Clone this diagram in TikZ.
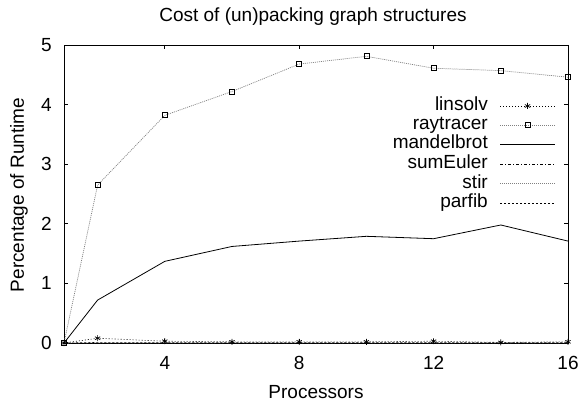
\documentclass[tikz,border=0pt]{standalone}
\usepackage{fontspec}
\setmainfont{Liberation Sans}
\usetikzlibrary{plotmarks}
\tikzset{
  axisline/.style={line width=0.8pt, black},
  ticklab/.style={font=\fontsize{19}{19}\selectfont, inner sep=0pt},
  legtext/.style={font=\fontsize{19}{19}\selectfont, anchor=east, inner sep=0pt, text height=12pt, text depth=3pt},
  linsolvstyle/.style={black, line width=0.6pt, dash pattern=on 1pt off 2pt},
  raystyle/.style={gray, line width=0.7pt, dash pattern=on 1pt off 1pt},
  mandelstyle/.style={black, line width=0.8pt},
  sumstyle/.style={black, line width=0.5pt, dash pattern=on 3pt off 2pt on 1pt off 2pt},
  stirstyle/.style={gray, line width=0.6pt, dash pattern=on 1pt off 1pt},
  parfibstyle/.style={black, line width=0.6pt, dash pattern=on 2pt off 2pt},
}
\begin{document}
\begin{tikzpicture}[x=1pt,y=-1pt]
\useasboundingbox (0,0) rectangle (580,406);
\fill[white] (0,0) rectangle (580,406);
% title and axis labels
\node[ticklab] (title) at (313,17) {Cost of (un)packing graph structures};
\node[ticklab] (xlab) at (316,392) {Processors};
\node[ticklab, rotate=90] (ylab) at (19,195) {Percentage of Runtime};
% frame
\draw[axisline] (64,45) rectangle (568,343);
% y ticks
\foreach \v in {0,...,5}{
  \pgfmathsetmacro{\yy}{343-59.6*\v}
  \draw[axisline] (64,\yy) -- (68,\yy);
  \draw[axisline] (568,\yy) -- (564,\yy);
  \node[ticklab, anchor=east] (yt\v) at (52,\yy) {\v};
}
% x ticks
\foreach \p in {4,8,12,16}{
  \pgfmathsetmacro{\xx}{64+33.6*(\p-1)}
  \draw[axisline] (\xx,343) -- (\xx,339);
  \draw[axisline] (\xx,45) -- (\xx,49);
  \node[ticklab] (xt\p) at (\xx,363) {\p};
}
% data
\begin{scope}[shift={(30.4,343)}, x=33.6pt, y=59.6pt]
  \draw[parfibstyle] plot coordinates {(1,0) (2,0.01) (4,0.01) (6,0.01) (8,0.01) (10,0.01) (12,0.01) (14,0.01) (16,0.01)};
  \draw[stirstyle] plot coordinates {(1,0) (2,0.005) (4,0.005) (6,0.005) (8,0.005) (10,0.005) (12,0.005) (14,0.005) (16,0.005)};
  \draw[sumstyle] plot coordinates {(1,0) (2,0) (4,0) (6,0) (8,0) (10,0) (12,0) (14,0) (16,0)};
  \draw[mandelstyle] plot coordinates {(1,0) (2,0.72) (4,1.37) (6,1.62) (8,1.71) (10,1.79) (12,1.75) (14,1.98) (16,1.71)};
  \draw[raystyle] plot coordinates {(1,0) (2,2.65) (4,3.82) (6,4.22) (8,4.68) (10,4.81) (12,4.61) (14,4.57) (16,4.46)};
  \foreach \p/\v in {1/0,2/2.65,4/3.82,6/4.22,8/4.68,10/4.81,12/4.61,14/4.57,16/4.46}
    \draw[black, line width=0.7pt] (\p,\v) ++(-2.5pt,-2.5pt) rectangle ++(5pt,5pt);
  \draw[linsolvstyle] plot coordinates {(1,0) (2,0.08) (4,0.03) (6,0.02) (8,0.02) (10,0.02) (12,0.03) (14,0.01) (16,0.02)};
  \foreach \p/\v in {1/0,2/0.08,4/0.03,6/0.02,8/0.02,10/0.02,12/0.03,14/0.01,16/0.02}
    \draw[black, line width=0.7pt] plot[mark=asterisk, mark size=3pt] coordinates {(\p,\v)};
\end{scope}
% legend
\node[legtext] (l1) at (488,106) {linsolv};
\node[legtext] (l2) at (488,125) {raytracer};
\node[legtext] (l3) at (488,144.5) {mandelbrot};
\node[legtext] (l4) at (488,164) {sumEuler};
\node[legtext] (l5) at (488,183.5) {stir};
\node[legtext] (l6) at (488,203) {parfib};
\coordinate (s1a) at (500,106); \coordinate (s1b) at (555,106);
\coordinate (s2a) at (500,125); \coordinate (s2b) at (555,125);
\coordinate (s3a) at (500,144.5); \coordinate (s3b) at (555,144.5);
\coordinate (s4a) at (500,164); \coordinate (s4b) at (555,164);
\coordinate (s5a) at (500,183.5); \coordinate (s5b) at (555,183.5);
\coordinate (s6a) at (500,203); \coordinate (s6b) at (555,203);
\draw[linsolvstyle] (s1a) -- (s1b);
\draw[black, line width=0.7pt] plot[mark=asterisk, mark size=3pt] coordinates {(527.5,106)};
\draw[raystyle] (s2a) -- (s2b);
\draw[black, line width=0.7pt] (527.5,125) ++(-2.5,-2.5) rectangle ++(5,5);
\draw[mandelstyle] (s3a) -- (s3b);
\draw[sumstyle] (s4a) -- (s4b);
\draw[stirstyle] (s5a) -- (s5b);
\draw[parfibstyle] (s6a) -- (s6b);
\end{tikzpicture}
\end{document}
